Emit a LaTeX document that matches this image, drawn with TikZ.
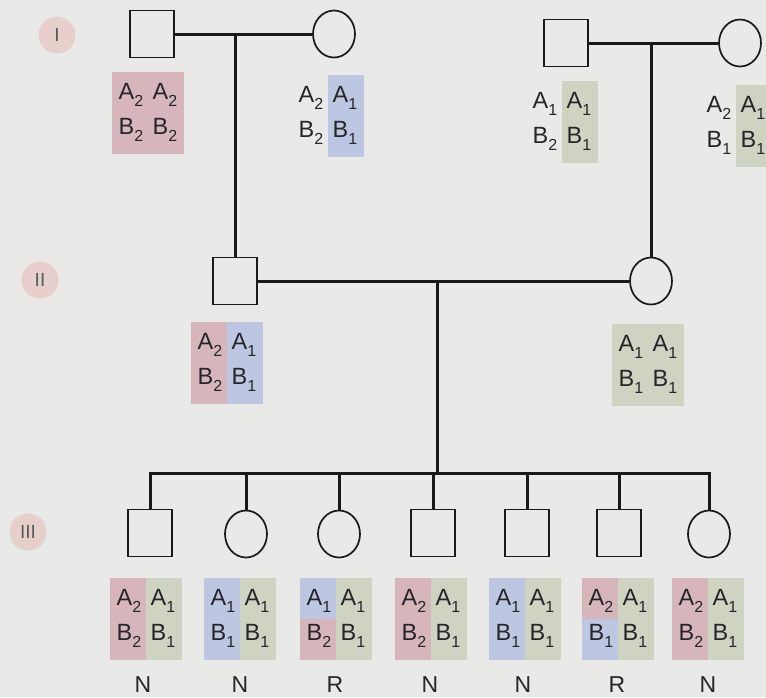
\documentclass[tikz,border=0pt]{standalone}
\usepackage{fontspec}
\setmainfont{Liberation Sans}
\usetikzlibrary{shapes.geometric,calc}
\definecolor{bg}{RGB}{233,234,231}
\definecolor{pk}{RGB}{214,182,186}
\definecolor{bl}{RGB}{190,199,226}
\definecolor{gr}{RGB}{207,211,193}
\definecolor{lab}{RGB}{231,208,203}
\definecolor{ink}{RGB}{25,25,25}
\definecolor{txt}{RGB}{38,38,42}
\newcommand{\gn}[2]{#1\kern0.2pt\raisebox{-0.30em}{\fontsize{16}{16}\selectfont #2}}
% genotype box: name, position, colours TL TR BL BR
\newcommand{\gbox}[6]{%
  \coordinate (#1) at (#2);
  \begin{scope}[shift={(#1)}]
    \path[fill=#3] (-36,-41) rectangle (0,0);
    \path[fill=#4] (0,-41) rectangle (36,0);
    \path[fill=#5] (-36,0) rectangle (0,41);
    \path[fill=#6] (0,0) rectangle (36,41);
  \end{scope}}
% genotype texts: name, TL TR BL BR
\newcommand{\gtxt}[5]{%
  \node[gt] (#1-tl) at ($(#1)+(-17,-14)$) {#2};
  \node[gt] (#1-tr) at ($(#1)+(17,-14)$) {#3};
  \node[gt] (#1-bl) at ($(#1)+(-17,21)$) {#4};
  \node[gt] (#1-br) at ($(#1)+(17,21)$) {#5};}
\begin{document}
\begin{tikzpicture}[x=1pt,y=-1pt,
  male/.style={draw=ink,line width=1.7pt,rectangle,minimum width=44pt,minimum height=47pt,inner sep=0pt},
  female/.style={draw=ink,line width=1.7pt,ellipse,minimum width=42pt,minimum height=47pt,inner sep=0pt},
  link/.style={draw=ink,line width=3pt},
  gt/.style={anchor=base,inner sep=0pt,text=txt,font=\fontsize{23.5}{23.5}\selectfont},
  gen/.style={circle,fill=lab,minimum size=37pt,inner sep=0pt,text=black!65,font=\fontsize{19}{19}\selectfont},
  ph/.style={anchor=base,inner sep=0pt,text=txt,font=\fontsize{23}{23}\selectfont}]
\useasboundingbox (0,0) rectangle (766,697);
\clip (0,0) rectangle (766,697);
\fill[bg] (0,0) rectangle (766,697);

% generation labels
\node[gen] (gI) at (57,35) {I};
\node[gen] (gII) at (40,280) {II};
\node[gen] (gIII) at (28,532) {III};

% generation I
\node[male] (I1) at (152,34) {};
\node[female] (I2) at (334,34) {};
\node[male] (I3) at (566,43) {};
\node[female] (I4) at (740,43) {};

% generation II
\node[male] (II1) at (235,281) {};
\node[female] (II2) at (651,281) {};

% generation III
\node[male] (III1) at (150,533) {};
\node[female] (III2) at (246,534) {};
\node[female] (III3) at (339,534) {};
\node[male] (III4) at (433,533) {};
\node[male] (III5) at (527,533) {};
\node[male] (III6) at (619,533) {};
\node[female] (III7) at (709,534) {};

% connectors
\draw[link] (I1.east) -- (I2.west);
\draw[link] (I3.east) -- (I4.west);
\draw[link] (II1.north) -- (II1.north |- I1.east);
\draw[link] (II2.north) -- (II2.north |- I3.east);
\draw[link] (II1.east) -- (II2.west);
\coordinate (d) at (437,281);
\coordinate (s) at (437,473);
\draw[link] (d) -- (s);
\draw[link] (III1.north) -- (III1.north |- s) -- (III7.north |- s) -- (III7.north);
\foreach \c in {III2,III3,III4,III5,III6}{
  \draw[link] (\c.north) -- (\c.north |- s);
}

% genotype boxes, generation I
\gbox{gI1}{148,113}{pk}{pk}{pk}{pk}
\gtxt{gI1}{\gn{A}{2}}{\gn{A}{2}}{\gn{B}{2}}{\gn{B}{2}}
\gbox{gI2}{328,116}{none}{bl}{none}{bl}
\gtxt{gI2}{\gn{A}{2}}{\gn{A}{1}}{\gn{B}{2}}{\gn{B}{1}}
\gbox{gI3}{562,122}{none}{gr}{none}{gr}
\gtxt{gI3}{\gn{A}{1}}{\gn{A}{1}}{\gn{B}{2}}{\gn{B}{1}}
\gbox{gI4}{736,126}{none}{gr}{none}{gr}
\gtxt{gI4}{\gn{A}{2}}{\gn{A}{1}}{\gn{B}{1}}{\gn{B}{1}}

% generation II
\gbox{gII1}{227,363}{pk}{bl}{pk}{bl}
\gtxt{gII1}{\gn{A}{2}}{\gn{A}{1}}{\gn{B}{2}}{\gn{B}{1}}
\gbox{gII2}{648,365}{gr}{gr}{gr}{gr}
\gtxt{gII2}{\gn{A}{1}}{\gn{A}{1}}{\gn{B}{1}}{\gn{B}{1}}

% generation III
\gbox{g1}{146,619}{pk}{gr}{pk}{gr}
\gtxt{g1}{\gn{A}{2}}{\gn{A}{1}}{\gn{B}{2}}{\gn{B}{1}}
\gbox{g2}{240,619}{bl}{gr}{bl}{gr}
\gtxt{g2}{\gn{A}{1}}{\gn{A}{1}}{\gn{B}{1}}{\gn{B}{1}}
\gbox{g3}{336,619}{bl}{gr}{pk}{gr}
\gtxt{g3}{\gn{A}{1}}{\gn{A}{1}}{\gn{B}{2}}{\gn{B}{1}}
\gbox{g4}{431,619}{pk}{gr}{pk}{gr}
\gtxt{g4}{\gn{A}{2}}{\gn{A}{1}}{\gn{B}{2}}{\gn{B}{1}}
\gbox{g5}{525,619}{bl}{gr}{bl}{gr}
\gtxt{g5}{\gn{A}{1}}{\gn{A}{1}}{\gn{B}{1}}{\gn{B}{1}}
\gbox{g6}{618,619}{pk}{gr}{bl}{gr}
\gtxt{g6}{\gn{A}{2}}{\gn{A}{1}}{\gn{B}{1}}{\gn{B}{1}}
\gbox{g7}{708,619}{pk}{gr}{pk}{gr}
\gtxt{g7}{\gn{A}{2}}{\gn{A}{1}}{\gn{B}{2}}{\gn{B}{1}}

% phenotypes
\node[ph] (p1) at (143,692) {N};
\node[ph] (p2) at (240,692) {N};
\node[ph] (p3) at (335,692) {R};
\node[ph] (p4) at (430,692) {N};
\node[ph] (p5) at (523,692) {N};
\node[ph] (p6) at (617,692) {R};
\node[ph] (p7) at (708,692) {N};
\end{tikzpicture}
\end{document}
